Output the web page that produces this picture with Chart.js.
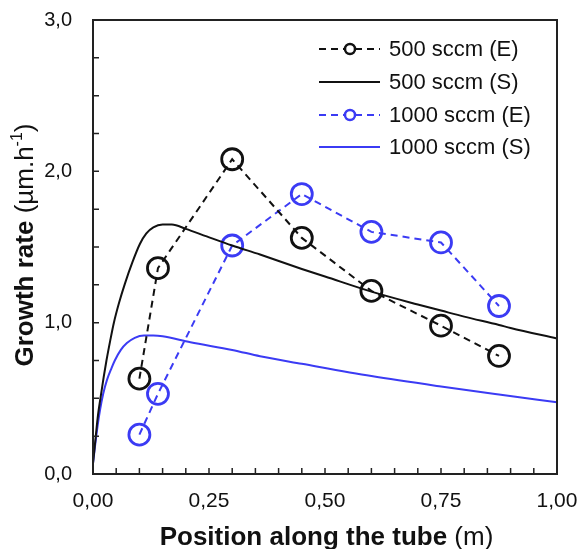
<!DOCTYPE html>
<html>
<head>
<meta charset="utf-8">
<script src="https://cdn.jsdelivr.net/npm/chart.js@4.4.1/dist/chart.umd.min.js"></script>
<style>
html,body{margin:0;padding:0;background:#fff;}
canvas{display:block;}
</style>
</head>
<body>
<canvas id="c" width="580" height="549"></canvas>
<script>
// ---- data ----
const seriesNames = ['500 sccm (E)', '500 sccm (S)', '1000 sccm (E)', '1000 sccm (S)'];
const expX = [0.10, 0.14, 0.30, 0.45, 0.60, 0.75, 0.875];
const exp500 = [0.63, 1.36, 2.08, 1.56, 1.21, 0.98, 0.78];
const exp1000 = [0.26, 0.53, 1.51, 1.85, 1.60, 1.53, 1.11];
const simX500 = [0, 0.005, 0.01, 0.017, 0.023, 0.029, 0.037, 0.045, 0.056, 0.069, 0.085, 0.101, 0.115, 0.13, 0.15, 0.17, 0.2, 0.245, 0.3, 0.36, 0.45, 0.5, 0.6, 0.7, 0.75, 0.8, 0.875, 0.9, 1.0];
const sim500 = [0.07, 0.22, 0.37, 0.52, 0.64, 0.75, 0.88, 1.0, 1.13, 1.26, 1.4, 1.52, 1.59, 1.63, 1.648, 1.648, 1.62, 1.57, 1.51, 1.45, 1.355, 1.305, 1.205, 1.12, 1.08, 1.04, 0.985, 0.965, 0.895];
const simX1000 = [0, 0.005, 0.01, 0.015, 0.022, 0.03, 0.04, 0.047, 0.06, 0.073, 0.09, 0.11, 0.13, 0.15, 0.21, 0.3, 0.36, 0.45, 0.6, 0.75, 0.875, 1.0];
const sim1000 = [0.07, 0.2, 0.32, 0.42, 0.53, 0.62, 0.7, 0.75, 0.82, 0.865, 0.9, 0.915, 0.915, 0.91, 0.87, 0.82, 0.778, 0.728, 0.647, 0.578, 0.525, 0.474];
const xTickLabels = ['0,00', '0,25', '0,50', '0,75', '1,00'];
const yTickLabels = ['0,0', '1,0', '2,0', '3,0'];

const BLACK = '#111111';
const BLUE = '#3b3bf4';
const FAM = '"Liberation Sans", Arial, sans-serif';
const pts = (xs, ys) => xs.map((x, i) => ({x: x, y: ys[i]}));

const frameAndTicks = {
  id: 'frameAndTicks',
  afterDraw(chart) {
    const {ctx, chartArea: a, scales} = chart;
    ctx.save();
    ctx.strokeStyle = '#222';
    ctx.lineWidth = 2;
    ctx.strokeRect(a.left, a.top, a.right - a.left, a.bottom - a.top);
    ctx.lineWidth = 1.5;
    ctx.beginPath();
    for (let i = 1; i < 20; i++) {
      const px = scales.x.getPixelForValue(i * 0.05);
      ctx.moveTo(px, a.bottom); ctx.lineTo(px, a.bottom - 6);
    }
    for (let i = 1; i < 12; i++) {
      const py = scales.y.getPixelForValue(i * 0.25);
      ctx.moveTo(a.left, py); ctx.lineTo(a.left + 6, py);
    }
    ctx.stroke();
    ctx.restore();
  }
};

const titles = {
  id: 'titles',
  afterDraw(chart) {
    const ctx = chart.ctx;
    ctx.save();
    ctx.fillStyle = '#111';
    ctx.textBaseline = 'alphabetic';
    const fB = 'bold 26px ' + FAM;
    const fR = '26px ' + FAM;
    const t1 = 'Position along the tube', t2 = ' (m)';
    ctx.font = fB; const w1 = ctx.measureText(t1).width;
    ctx.font = fR; const w2 = ctx.measureText(t2).width;
    let x0 = 326.5 - (w1 + w2) / 2;
    ctx.font = fB; ctx.fillText(t1, x0, 545);
    ctx.font = fR; ctx.fillText(t2, x0 + w1, 545);
    const parts = [
      {t: 'Growth rate', f: fB, dy: 0},
      {t: ' (µm.h', f: fR, dy: 0},
      {t: '-1', f: '16px ' + FAM, dy: -11},
      {t: ')', f: fR, dy: 0}
    ];
    let total = 0;
    parts.forEach(p => { ctx.font = p.f; p.w = ctx.measureText(p.t).width; total += p.w; });
    ctx.translate(33, 245);
    ctx.rotate(-Math.PI / 2);
    let cx = -total / 2;
    parts.forEach(p => { ctx.font = p.f; ctx.fillText(p.t, cx, p.dy); cx += p.w; });
    ctx.restore();
  }
};

const legendBox = {
  id: 'legendBox',
  afterDraw(chart) {
    const ctx = chart.ctx;
    ctx.save();
    ctx.font = '22px ' + FAM;
    ctx.textBaseline = 'middle';
    const rows = [49, 82, 115, 147];
    chart.data.datasets.forEach((ds, i) => {
      const y = rows[i];
      ctx.strokeStyle = ds.borderColor;
      ctx.lineWidth = 2;
      ctx.setLineDash(ds.borderDash || []);
      ctx.beginPath(); ctx.moveTo(319, y); ctx.lineTo(380, y); ctx.stroke();
      ctx.setLineDash([]);
      if (ds.pointRadius > 0) {
        ctx.fillStyle = '#fff';
        ctx.lineWidth = 2.5;
        ctx.beginPath(); ctx.arc(350, y, 5, 0, Math.PI * 2); ctx.fill(); ctx.stroke();
      }
      ctx.fillStyle = '#111';
      ctx.fillText(ds.label, 389, y + 1);
    });
    ctx.restore();
  }
};

const zeroPad = s => { s.paddingTop = 0; s.paddingBottom = 0; s.paddingLeft = 0; s.paddingRight = 0; };

new Chart(document.getElementById('c'), {
  type: 'line',
  data: {
    datasets: [
      {label: seriesNames[0], data: pts(expX, exp500), borderColor: BLACK, borderWidth: 2, borderDash: [7, 5],
       pointRadius: 10.5, pointBorderWidth: 2.8, pointBorderColor: BLACK, pointBackgroundColor: 'rgba(0,0,0,0)', tension: 0},
      {label: seriesNames[1], data: pts(simX500, sim500), borderColor: BLACK, borderWidth: 2,
       pointRadius: 0, cubicInterpolationMode: 'monotone'},
      {label: seriesNames[2], data: pts(expX, exp1000), borderColor: BLUE, borderWidth: 2, borderDash: [7, 5],
       pointRadius: 10.5, pointBorderWidth: 2.8, pointBorderColor: BLUE, pointBackgroundColor: 'rgba(0,0,0,0)', tension: 0},
      {label: seriesNames[3], data: pts(simX1000, sim1000), borderColor: BLUE, borderWidth: 2,
       pointRadius: 0, cubicInterpolationMode: 'monotone'}
    ]
  },
  options: {
    responsive: false,
    animation: false,
    devicePixelRatio: 1,
    layout: {padding: {top: 20, right: 23, left: 0, bottom: 0}},
    plugins: {legend: {display: false}, tooltip: {enabled: false}},
    scales: {
      x: {
        type: 'linear', min: 0, max: 1,
        afterFit: s => { s.height = 75; zeroPad(s); },
        grid: {display: false, drawTicks: false},
        border: {display: true, color: '#222', width: 2},
        ticks: {stepSize: 0.25, padding: 15, color: '#111', maxRotation: 0,
          font: {size: 21, family: FAM},
          callback: (v) => xTickLabels[Math.round(v / 0.25)]}
      },
      y: {
        type: 'linear', min: 0, max: 3,
        afterFit: s => { s.width = 93; zeroPad(s); },
        grid: {display: false, drawTicks: false},
        border: {display: true, color: '#222', width: 2},
        ticks: {stepSize: 1, padding: 21, color: '#111',
          font: {size: 20, family: FAM},
          callback: (v) => yTickLabels[Math.round(v)]}
      }
    }
  },
  plugins: [frameAndTicks, titles, legendBox]
});
</script>
</body>
</html>
